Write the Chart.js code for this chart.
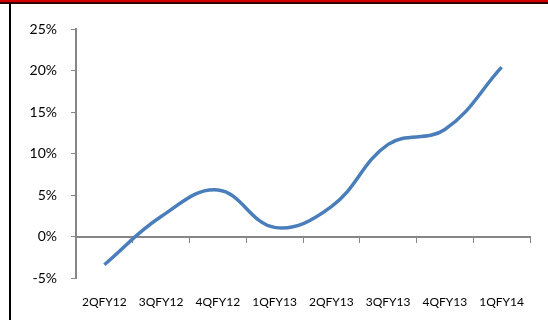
<!DOCTYPE html>
<html>
<head>
<meta charset="utf-8">
<script src="https://cdn.jsdelivr.net/npm/chart.js@4"></script>
<style>
  body { margin: 0; background: #fff; }
  #wrap { position: relative; width: 548px; height: 320px; }
  #redbar { position: absolute; left: 0; top: 0; width: 548px; height: 2px; background: #d40000; }
  #darkline { position: absolute; left: 0; top: 2px; width: 548px; height: 2px; background: #300; }
  #leftline { position: absolute; left: 9px; top: 3px; width: 2px; height: 317px; background: #000; }
  canvas { position: absolute; left: 0; top: 0; }
</style>
</head>
<body>
<div id="wrap">
  <canvas id="chart" width="548" height="320"></canvas>
  <div id="redbar"></div>
  <div id="darkline"></div>
  <div id="leftline"></div>
</div>
<script>
var quarters = ["2QFY12", "3QFY12", "4QFY12", "1QFY13", "2QFY13", "3QFY13", "4QFY13", "1QFY14"];
var growth = [-3.4, 2.4, 5.6, 1.1, 3.6, 11.1, 12.9, 20.4];
var yTicks = [-5, 0, 5, 10, 15, 20, 25];

var axisGrey = "#868686";
var font = "Lato, 'Open Sans', sans-serif";

const ctx = document.getElementById("chart");

const chart = new Chart(ctx, {
    type: "line",
    data: {
        labels: quarters,
        datasets: [{
            data: growth,
            borderColor: "#4a7ebb",
            borderWidth: 3.5,
            tension: 0.4,
            pointRadius: 0,
            fill: false,
            xAxisID: "x",
            yAxisID: "y"
        }]
    },
    options: {
        responsive: false,
        animation: false,
        layout: {padding: {left: 10, top: 29, right: 18, bottom: 0}},
        plugins: {
            legend: {display: false},
            tooltip: {enabled: false}
        },
        scales: {
            x: {
                type: "category",
                position: "bottom",
                offset: true,
                grid: {display: false},
                border: {display: false},
                ticks: {
                    color: "#000",
                    padding: 9,
                    maxRotation: 0,
                    autoSkip: false,
                    font: {family: font, size: 12}
                },
                afterFit: function(scale) { scale.height = 42; }
            },
            x2: {
                type: "category",
                position: {y: 0},
                offset: true,
                grid: {
                    display: true,
                    offset: true,
                    drawOnChartArea: false,
                    drawTicks: true,
                    tickLength: 5,
                    color: axisGrey,
                    lineWidth: 1
                },
                border: {display: true, color: axisGrey, width: 2},
                ticks: {display: false}
            },
            y: {
                min: -5,
                max: 25,
                afterBuildTicks: function(scale) {
                    scale.ticks = yTicks.map(function(v) { return {value: v}; });
                },
                grid: {
                    display: true,
                    drawOnChartArea: false,
                    drawTicks: true,
                    tickLength: 5,
                    color: axisGrey,
                    lineWidth: 1
                },
                border: {display: true, color: axisGrey, width: 2},
                ticks: {
                    color: "#000",
                    padding: 14,
                    font: {family: font, size: 14},
                    callback: function(v) { return v + "%"; }
                },
                afterFit: function(scale) { scale.width = 66; }
            }
        }
    }
});
</script>
</body>
</html>
